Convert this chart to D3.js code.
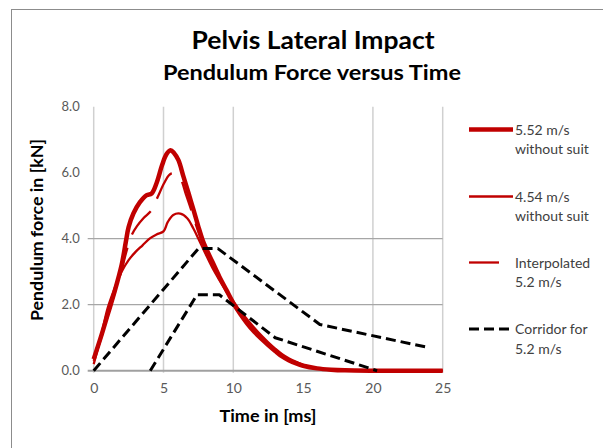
<!DOCTYPE html>
<html><head><meta charset="utf-8">
<script src="https://cdn.jsdelivr.net/npm/d3@7"></script>
<style>body{margin:0;background:#fff}svg{display:block}text{font-family:Lato,"Open Sans",sans-serif}</style>
</head><body><div id="chart"></div>
<script>
// ---- data ----
const xTicks = [0, 5, 10, 15, 20, 25];
const yTicks = [0, 2, 4, 6, 8];
const xGrid = [0, 5, 10, 20, 25];
const yGrid = [2, 4];
const seriesNames = ["5.52 m/s|without suit", "4.54 m/s|without suit", "Interpolated|5.2 m/s", "Corridor for|5.2 m/s"];

// 5.52 m/s without suit : [time ms, force kN]
const v552 = [[0,0.35],[0.5,1.0],[1.0,1.7],[1.5,2.4],[2.0,3.2],[2.3,3.9],[2.5,4.35],[2.85,4.77],[3.3,5.1],[3.8,5.32],[4.15,5.37],[4.5,5.68],[4.9,6.23],[5.2,6.55],[5.5,6.68],[5.75,6.6],[6.07,6.38],[6.43,5.88],[6.8,5.37],[7.15,4.87],[7.5,4.36],[7.8,3.96],[8.0,3.75],[8.5,3.3],[9.0,2.85],[9.5,2.45],[10,2.05],[10.5,1.72],[11,1.43],[11.5,1.18],[12,0.97],[12.5,0.78],[13,0.6],[13.5,0.43],[14,0.31],[14.5,0.22],[15,0.15],[16,0.07],[17,0.03],[18,0.01],[20,0],[25,0]];
// 4.54 m/s without suit
const v454 = [[0,0.2],[0.5,1.0],[1.0,1.9],[1.5,2.5],[2.0,3.0],[2.5,3.35],[3.0,3.6],[3.5,3.8],[4.0,4.0],[4.5,4.13],[5.0,4.22],[5.3,4.5],[5.7,4.72],[6.2,4.76],[6.7,4.62],[7.15,4.3],[7.5,4.0],[8,3.55],[8.5,3.12],[9,2.75],[9.5,2.4],[10,2.1],[10.5,1.8],[11,1.55],[11.5,1.3],[12,1.07],[12.5,0.86],[13,0.67],[13.5,0.5],[14,0.37],[14.5,0.27],[15,0.18],[16,0.07],[17,0.03],[18,0.01],[20,0],[25,0]];
// Interpolated 5.2 m/s
const vInterp = [[0,0.3],[0.5,0.95],[1,1.65],[1.5,2.35],[2,3.05],[2.4,3.7],[2.72,4.11],[3.1,4.38],[3.56,4.62],[4.16,4.87],[4.6,5.28],[5.04,5.68],[5.4,5.93],[5.67,5.98],[6.19,5.83],[6.6,5.35],[7.0,4.85],[7.5,4.2],[8,3.65],[8.5,3.2],[9,2.8],[9.5,2.42],[10,2.08],[10.5,1.78],[11,1.5],[11.5,1.25],[12,1.02],[12.5,0.82],[13,0.64],[13.5,0.48],[14,0.35],[14.5,0.25],[15,0.17],[16,0.07],[17,0.03],[18,0.01],[20,0],[25,0]];
// Corridor for 5.2 m/s
const corridorUpper = [[0,0],[7.5,3.7],[8.9,3.7],[16.2,1.4],[24,0.7]];
const corridorLower = [[4.05,0],[7.4,2.3],[9.0,2.3],[13.0,1.0],[20.3,0]];

// ---- layout ----
const W = 603, H = 448;
const svg = d3.select("#chart").append("svg").attr("width", W).attr("height", H);
svg.append("rect").attr("x", 11.5).attr("y", 9.5).attr("width", 620).attr("height", 460)
  .attr("fill", "#fff").attr("stroke", "#8c8c8c").attr("stroke-width", 1);

const x = d3.scaleLinear().domain([0, 25]).range([93.7, 442.7]);
const y = d3.scaleLinear().domain([0, 8]).range([370.7, 106.7]);

// gridlines
svg.append("g").selectAll("line").data(xGrid).join("line")
  .attr("x1", d => x(d)).attr("x2", d => x(d)).attr("y1", y(8)).attr("y2", y(0) + 2)
  .attr("stroke", "#d0d0d0").attr("stroke-width", 1.5);
svg.append("g").selectAll("line").data(yGrid).join("line")
  .attr("x1", x(0) - 6).attr("x2", x(25)).attr("y1", d => y(d)).attr("y2", d => y(d))
  .attr("stroke", "#a6a6a6").attr("stroke-width", 1.2);
svg.append("line").attr("x1", x(0) - 6).attr("x2", x(25)).attr("y1", y(0)).attr("y2", y(0))
  .attr("stroke", "#a0a0a0").attr("stroke-width", 2);

// axes labels via d3 axes
const xAxis = svg.append("g").attr("transform", `translate(0,${y(0)})`)
  .call(d3.axisBottom(x).tickValues(xTicks).tickSize(0).tickPadding(12).tickFormat(d3.format("d")));
xAxis.select(".domain").remove();
xAxis.selectAll("text").attr("font-size", 14).attr("fill", "#595959").attr("font-family", "Lato");
const yAxis = svg.append("g").attr("transform", `translate(${x(0)},0)`)
  .call(d3.axisLeft(y).tickValues(yTicks).tickSize(0).tickPadding(14).tickFormat(d3.format(".1f")));
yAxis.select(".domain").remove();
yAxis.selectAll("text").attr("font-size", 13).attr("fill", "#595959").attr("font-family", "Lato");

// titles
svg.append("text").attr("x", 313).attr("y", 49).attr("text-anchor", "middle")
  .attr("font-size", 25).attr("font-weight", "bold").attr("fill", "#000")
  .attr("textLength", 243).attr("lengthAdjust", "spacingAndGlyphs").text("Pelvis Lateral Impact");
svg.append("text").attr("x", 312).attr("y", 80).attr("text-anchor", "middle")
  .attr("font-size", 21).attr("font-weight", "bold").attr("fill", "#000")
  .attr("textLength", 298).attr("lengthAdjust", "spacingAndGlyphs").text("Pendulum Force versus Time");
svg.append("text").attr("x", 268).attr("y", 422).attr("text-anchor", "middle")
  .attr("font-size", 17).attr("font-weight", "bold").attr("fill", "#000")
  .attr("textLength", 97).attr("lengthAdjust", "spacingAndGlyphs").text("Time in [ms]");
svg.append("text").attr("transform", "translate(43,230) rotate(-90)").attr("text-anchor", "middle")
  .attr("font-size", 17).attr("font-weight", "bold").attr("fill", "#000")
  .attr("textLength", 182).attr("lengthAdjust", "spacingAndGlyphs").text("Pendulum force in [kN]");

// lines
const line = d3.line().x(d => x(d[0])).y(d => y(d[1]));
const smooth = d3.line().x(d => x(d[0])).y(d => y(d[1])).curve(d3.curveCatmullRom);
const red = "#c00000";
const styles = [
  {w: 4.5, dash: null, color: red},
  {w: 2.3, dash: null, color: red},
  {w: 2.3, dash: "30,14", color: red},
  {w: 3, dash: "10,5", color: "#000"}
];
const g = svg.append("g").attr("fill", "none").attr("stroke-linejoin", "round");
[v552, v454, vInterp].forEach((s, i) => {
  g.append("path").attr("d", smooth(s)).attr("stroke", styles[i].color)
    .attr("stroke-width", styles[i].w).attr("stroke-dasharray", styles[i].dash);
});
[corridorUpper, corridorLower].forEach(s => {
  g.append("path").attr("d", line(s)).attr("stroke", "#000")
    .attr("stroke-width", styles[3].w).attr("stroke-dasharray", styles[3].dash);
});

// legend
const legY = [129.5, 196.5, 262.5, 329];
seriesNames.forEach((name, i) => {
  const st = styles[i];
  svg.append("line").attr("x1", 469).attr("x2", 513).attr("y1", legY[i]).attr("y2", legY[i])
    .attr("stroke", st.color).attr("stroke-width", st.w).attr("stroke-dasharray", st.dash);
  const parts = name.split("|");
  parts.forEach((p, j) => {
    svg.append("text").attr("x", 515).attr("y", legY[i] + 5 + j * 19.5)
      .attr("font-size", 14).attr("fill", "#404040").text(p);
  });
});
</script></body></html>
